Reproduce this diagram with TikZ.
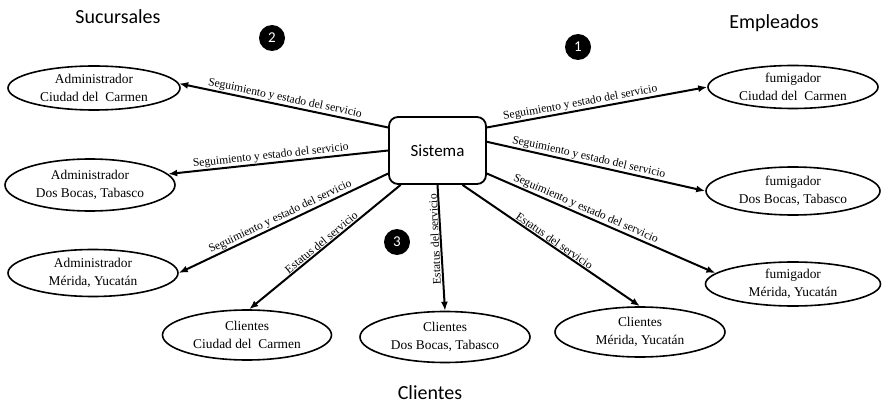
\documentclass[tikz,border=0pt]{standalone}
\usepackage{fontspec}
\setmainfont{Liberation Serif}
\newfontfamily\calfont{Carlito}
\newfontfamily\serf{Liberation Serif}
\usetikzlibrary{shapes.geometric,arrows.meta}
\begin{document}
\begin{tikzpicture}[x=1pt,y=-1pt,
 ent/.style={ellipse,draw,line width=1.6pt,inner sep=0pt,align=center,font=\serf\fontsize{13.4}{18}\selectfont},
 sisbox/.style={rectangle,draw,rounded corners=9pt,line width=1.8pt,minimum width=97pt,minimum height=67pt,font=\calfont\fontsize{17}{20}\selectfont},
 flow/.style={line width=2pt,-{Latex[length=9pt,width=7pt]}},
 lbl/.style={font=\serf\fontsize{11.6}{13}\selectfont,sloped,above,inner sep=0.8pt},
 head/.style={font=\calfont\fontsize{20}{24}\selectfont},
 num/.style={circle,fill=black,text=white,minimum size=26pt,inner sep=0pt,font=\calfont\fontsize{15}{16}\selectfont}]
\useasboundingbox (0,0) rectangle (883,406);
\node[head] (hs) at (118,17) {Sucursales};
\node[head] (he) at (774,23) {Empleados};
\node[head] (hc) at (430,393) {Clientes};
\node[num] (n2) at (272,38) {2};
\node[num] (n1) at (578,47) {1};
\node[num] (n3) at (397,242) {3};
\node[sisbox] (sis) at (437.5,150.5) {Sistema};
\node[ent,minimum width=172pt,minimum height=44pt] (ac) at (94,88) {Administrador\\Ciudad del\ \ Carmen};
\node[ent,minimum width=170pt,minimum height=52pt] (ad) at (90,185) {Administrador\\Dos Bocas, Tabasco};
\node[ent,minimum width=170pt,minimum height=47pt] (am) at (93,273) {Administrador\\Mérida, Yucatán};
\node[ent,minimum width=170pt,minimum height=43pt] (fc) at (793,87) {fumigador\\Ciudad del\ \ Carmen};
\node[ent,minimum width=174pt,minimum height=48pt] (fd) at (793,191) {fumigador\\Dos Bocas, Tabasco};
\node[ent,minimum width=175pt,minimum height=44pt] (fm) at (793,284) {fumigador\\Mérida, Yucatán};
\node[ent,minimum width=169pt,minimum height=50pt] (cc) at (247,335) {Clientes\\Ciudad del\ \ Carmen};
\node[ent,minimum width=170pt,minimum height=51pt] (cd) at (445,337) {Clientes\\Dos Bocas, Tabasco};
\node[ent,minimum width=170pt,minimum height=50pt] (cm) at (640,332) {Clientes\\Mérida, Yucatán};
\draw[flow] (sis.155) -- node[lbl,pos=0.5]{Seguimiento y estado del servicio} (ac.3);
\draw[flow] (sis.180) -- node[lbl,pos=0.53]{Seguimiento y estado del servicio} (ad.8);
\draw[flow] (sis.205) -- node[lbl,pos=0.5]{Seguimiento y estado del servicio} (am.east);
\draw[flow] (sis.25) -- node[lbl,pos=0.43]{Seguimiento y estado del servicio} (fc.west);
\draw[flow] (sis.10) -- node[lbl,pos=0.46]{Seguimiento y estado del servicio} (fd.west);
\draw[flow] (sis.335) -- node[lbl,pos=0.42]{Seguimiento y estado del servicio} (fm.172);
\draw[flow] (sis.223) -- node[lbl,pos=0.5]{Estatus del servicio} (cc.85);
\draw[flow] (sis.270) -- node[font=\serf\fontsize{11.6}{13}\selectfont,inner sep=0.8pt,pos=0.43,rotate=92.7,anchor=south]{Estatus del servicio} (cd.north);
\draw[flow] (sis.306) -- node[lbl,pos=0.5]{Estatus del servicio} (cm.north);
\end{tikzpicture}
\end{document}
